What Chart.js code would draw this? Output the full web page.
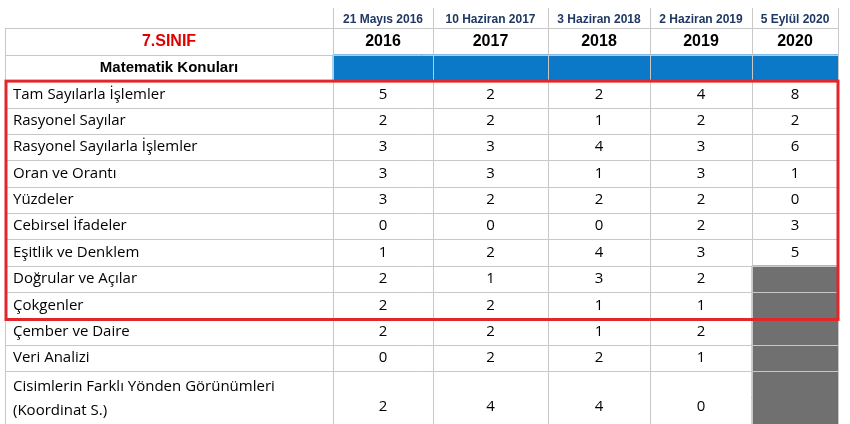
<!DOCTYPE html>
<html>
<head>
<meta charset="utf-8">
<script src="https://cdn.jsdelivr.net/npm/chart.js@4/dist/chart.umd.min.js"></script>
<style>
  html, body { margin: 0; padding: 0; background: #fff; }
  #wrap { width: 850px; height: 424px; }
</style>
</head>
<body>
<div id="wrap"><canvas id="table"></canvas></div>
<script>
// Table data
const dates = ['21 Mayıs 2016', '10 Haziran 2017', '3 Haziran 2018', '2 Haziran 2019', '5 Eylül 2020'];
const years = ['2016', '2017', '2018', '2019', '2020'];
const topics = ['Tam Sayılarla İşlemler', 'Rasyonel Sayılar', 'Rasyonel Sayılarla İşlemler', 'Oran ve Orantı',
    'Yüzdeler', 'Cebirsel İfadeler', 'Eşitlik ve Denklem', 'Doğrular ve Açılar', 'Çokgenler',
    'Çember ve Daire', 'Veri Analizi', 'Cisimlerin Farklı Yönden Görünümleri|(Koordinat S.)'];
const y2016 = [5, 2, 3, 3, 3, 0, 1, 2, 2, 2, 0, 2];
const y2017 = [2, 2, 3, 3, 2, 0, 2, 1, 2, 2, 2, 4];
const y2018 = [2, 1, 4, 1, 2, 0, 4, 3, 1, 1, 2, 4];
const y2019 = [4, 2, 3, 3, 2, 2, 3, 2, 1, 2, 1, 0];
const y2020 = [8, 2, 6, 1, 0, 3, 5, null, null, null, null, null];
const series = [y2016, y2017, y2018, y2019, y2020];

// Layout (column edges on the x scale, row slots on the y scale)
const colEdges = [5, 333, 433, 548, 650, 752, 838];
const rowSlots = ['date', 'head', 'mat'].concat(topics.map((t, i) => 't' + i), ['t11b']);
const topicRow = i => 3 + i;

// Cell backgrounds
const blueCells = years.map((y, j) => ({ x: [colEdges[j + 1], colEdges[j + 2]], y: 'mat' }));
const greyCells = [];
y2020.forEach((v, i) => { if (v === null) greyCells.push({ x: [colEdges[5], colEdges[6]], y: 't' + i }); });
greyCells.push({ x: [colEdges[5], colEdges[6]], y: 't11b' });

const tablePlugin = {
    id: 'tableText',
    afterDatasetsDraw(chart) {
        const { ctx, scales: { x, y } } = chart;
        const h = y.getPixelForValue(1) - y.getPixelForValue(0);
        const top = i => y.getPixelForValue(i) - h / 2;
        const mid = i => y.getPixelForValue(i);
        const px = v => x.getPixelForValue(v);
        const lastBottom = top(rowSlots.length);
        ctx.save();
        // grid
        ctx.strokeStyle = '#c8c8c8';
        ctx.lineWidth = 1;
        ctx.beginPath();
        colEdges.forEach((e, j) => {
            const startY = j === 0 ? top(1) : top(0) + 6;
            ctx.moveTo(Math.round(px(e)) + 0.5, startY);
            ctx.lineTo(Math.round(px(e)) + 0.5, lastBottom);
        });
        for (let i = 1; i < rowSlots.length; i++) {
            if (i === rowSlots.length - 1) continue;
            ctx.moveTo(px(colEdges[0]), Math.round(top(i)) + 0.5);
            ctx.lineTo(px(colEdges[6]), Math.round(top(i)) + 0.5);
        }
        ctx.stroke();
        // date row
        ctx.textAlign = 'center';
        ctx.textBaseline = 'middle';
        ctx.fillStyle = '#1f3864';
        ctx.font = 'bold 12px "Liberation Sans", Arial, sans-serif';
        dates.forEach((d, j) => ctx.fillText(d, (px(colEdges[j + 1]) + px(colEdges[j + 2])) / 2, mid(0) + 4));
        // header
        ctx.fillStyle = '#e00000';
        ctx.font = 'bold 16px "Liberation Sans", Arial, sans-serif';
        ctx.fillText('7.SINIF', (px(colEdges[0]) + px(colEdges[1])) / 2, mid(1));
        ctx.fillStyle = '#000';
        years.forEach((yr, j) => ctx.fillText(yr, (px(colEdges[j + 1]) + px(colEdges[j + 2])) / 2, mid(1)));
        ctx.font = 'bold 15px "Liberation Sans", Arial, sans-serif';
        ctx.fillText('Matematik Konuları', (px(colEdges[0]) + px(colEdges[1])) / 2, mid(2));
        // body
        ctx.font = '15px "Open Sans", "Liberation Sans", sans-serif';
        topics.forEach((t, i) => {
            const r = topicRow(i);
            const lines = t.split('|');
            ctx.textAlign = 'left';
            if (lines.length > 1) {
                ctx.fillText(lines[0], px(colEdges[0]) + 8, mid(r) + 2);
                ctx.fillText(lines[1], px(colEdges[0]) + 8, mid(r + 1));
            } else {
                ctx.fillText(t, px(colEdges[0]) + 8, mid(r));
            }
            ctx.textAlign = 'center';
            series.forEach((s, j) => {
                if (s[i] === null) return;
                const cy = lines.length > 1 ? mid(r + 1) - 4 : mid(r);
                ctx.fillText(String(s[i]), (px(colEdges[j + 1]) + px(colEdges[j + 2])) / 2, cy);
            });
        });
        // red highlight box
        ctx.strokeStyle = '#e3262b';
        ctx.lineWidth = 3;
        ctx.strokeRect(px(colEdges[0]) + 1, top(topicRow(0)), px(colEdges[6]) - px(colEdges[0]) - 1, top(topicRow(9)) - top(topicRow(0)) + 1);
        ctx.restore();
    }
};

new Chart(document.getElementById('table').getContext('2d'), {
    type: 'bar',
    data: {
        labels: rowSlots,
        datasets: [
            { data: blueCells, backgroundColor: '#0b78c8', grouped: false, categoryPercentage: 1, barPercentage: 1 },
            { data: greyCells, backgroundColor: '#707070', grouped: false, categoryPercentage: 1, barPercentage: 1 }
        ]
    },
    options: {
        indexAxis: 'y',
        responsive: true,
        maintainAspectRatio: false,
        animation: false,
        layout: { padding: { top: 2, bottom: -2 } },
        plugins: { legend: { display: false }, tooltip: { enabled: false } },
        scales: {
            x: { type: 'linear', min: 0, max: 850, display: false },
            y: { type: 'category', display: false, offset: true }
        }
    },
    plugins: [tablePlugin]
});
</script>
</body>
</html>
